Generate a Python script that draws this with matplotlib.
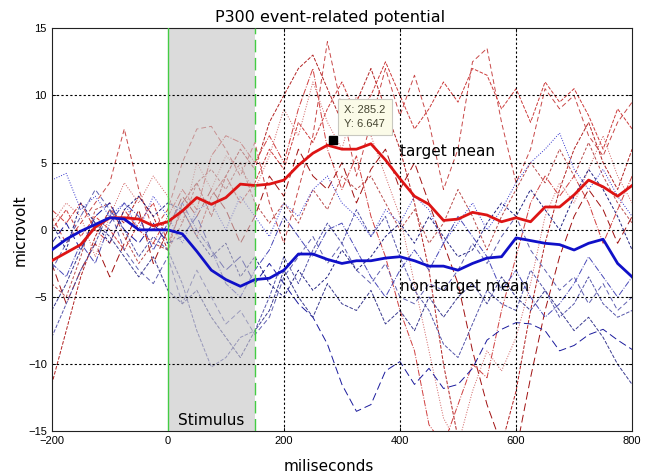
"""
P300 event-related potential: single trials (dashed) and means (thick).
"""

import matplotlib
matplotlib.use('Agg')
import matplotlib.pyplot as plt
import numpy as np

# time base (ms), one sample every 25 ms
t = np.arange(-200, 801, 25)

# --- means ---
target_mean = [-2.3, -1.7, -1.1, 0.2, 0.9, 0.9, 0.8, 0.3, 0.6, 1.4, 2.4, 1.9, 2.4, 3.4,
               3.3, 3.4, 3.7, 4.8, 5.7, 6.3, 6.0, 6.0, 6.4, 5.2, 3.8, 2.5, 1.9, 0.7,
               0.8, 1.3, 1.1, 0.6, 0.9, 0.6, 1.7, 1.7, 2.6, 3.7, 3.2, 2.5, 3.3]
nontarget_mean = [-1.5, -0.7, -0.1, 0.4, 0.9, 0.8, 0.0, 0.0, 0.0, -0.3, -1.6, -3.0, -3.7,
                  -4.2, -3.7, -3.6, -3.0, -1.8, -1.8, -2.2, -2.5, -2.3, -2.3, -2.1, -2.0,
                  -2.3, -2.7, -2.7, -3.0, -2.5, -2.1, -2.0, -0.6, -0.8, -1.0, -1.1, -1.5,
                  -1.0, -0.7, -2.5, -3.5]

# --- single target trials ---
target_trials = [
    [-11.5, -7.5, -3.5, -0.5, 1.5, 0.5, 2.5, 1.0, -1.5, 2.0, 3.5, 1.0, 4.0, 6.0, 4.5, 8.0,
     10.0, 12.0, 13.0, 10.5, 8.0, 9.5, 12.0, 9.0, 6.0, 2.0, -3.0, -10.0, -15.5, -17.0,
     -17.0, -16.0, -12.0, -6.0, -1.0, 3.0, 6.0, 8.0, 5.0, 3.0, 6.0],
    [1.0, -1.0, 0.5, 2.0, 3.5, 7.5, 3.0, 0.0, 1.5, 5.0, 7.5, 7.7, 6.0, 4.0, 6.5, 2.0, -1.0,
     3.0, 7.0, 14.0, 9.0, 4.0, 8.0, 12.0, 8.5, 11.5, 8.0, 3.0, 6.0, 12.5, 13.5, 8.0, 3.5,
     6.0, 10.5, 9.0, 10.0, 7.0, 5.5, 8.0, 9.5],
    [0.5, 2.0, 1.0, -2.0, 1.0, 3.5, 2.0, 4.0, 2.5, 0.5, 5.0, 3.0, 5.5, 4.5, 3.0, 5.5, 9.0,
     7.0, 11.0, 8.0, 6.0, 10.0, 7.0, 4.0, 1.0, -4.0, -9.0, -14.0, -16.0, -12.0, -9.0,
     -10.5, -8.0, -4.0, 1.0, 3.5, 2.0, 4.5, 7.0, 4.0, 2.0],
    [-2.5, -5.5, -3.0, -1.0, -3.5, -1.0, 1.5, -2.5, 0.0, 2.5, 1.0, 3.0, 1.5, -1.0, 1.0, 4.0,
     2.5, 6.0, 4.0, 3.0, 5.0, 2.0, 4.5, 6.0, 3.0, 5.0, 2.0, -1.0, -4.0, -9.0, -13.0,
     -16.0, -16.5, -11.0, -6.0, -2.0, 1.0, 3.0, 1.5, -1.0, 1.0],
    [0.0, 1.5, -0.5, 1.0, 0.0, -1.5, 0.5, 2.0, -1.0, 1.5, -0.5, 2.5, 4.0, 2.0, 3.5, 6.0,
     4.5, 8.0, 6.5, 9.0, 11.0, 8.5, 10.0, 12.5, 10.0, 7.5, 9.0, 11.0, 9.5, 12.0, 11.5, 9.0,
     10.5, 8.0, 11.0, 9.5, 10.5, 8.5, 6.0, 9.0, 7.5],
    [-4.0, -5.0, -2.0, 1.5, 2.0, -0.5, -2.5, -1.0, -1.5, 0.5, 3.5, 4.5, 3.0, 5.0, 2.0, 0.5,
     2.0, 0.5, 3.0, 1.5, 4.0, 3.0, 4.0, 2.0, 0.0, 1.5, -1.0, 0.5, 3.0, 1.0, -1.5, 1.0, 3.0,
     5.0, 3.5, 6.0, 4.0, 6.5, 4.0, 2.0, 0.5],
    [1.5, 0.5, 2.0, 0.0, -1.0, 1.5, 0.0, -1.0, 1.0, 3.0, 1.5, 5.5, 7.0, 6.5, 5.0, 7.0, 5.0,
     9.0, 12.0, 6.0, 3.0, 5.5, 1.0, -2.0, -6.0, -9.0, -14.5, -16.0, -13.0, -10.0, -11.0,
     -6.0, -2.0, 2.0, 4.0, 2.5, 4.0, 2.0, -1.0, 1.5, 4.0],
]

# --- single non-target trials ---
nontarget_trials = [
    [-1.0, 0.5, -1.5, 1.0, 2.0, 0.0, -1.0, 0.5, -1.0, -0.5, 1.0, -1.5, -3.0, -2.0, -4.0,
     -2.5, -4.0, -5.5, -6.5, -8.5, -11.5, -13.5, -13.0, -10.5, -9.8, -11.5, -10.3, -11.8,
     -11.5, -10.3, -8.2, -7.4, -6.9, -7.0, -7.5, -9.0, -8.6, -7.8, -7.4, -8.2, -8.9],
    [-8.0, -5.5, -3.0, -1.0, 1.5, 0.0, -2.0, -0.5, -1.5, -4.0, -7.5, -10.2, -9.5, -8.0,
     -7.5, -5.0, -2.0, -4.0, -1.5, 0.5, -1.0, 1.5, -0.5, 1.0, -2.0, -4.5, -6.0, -8.5, -9.5,
     -7.0, -4.5, -5.5, -6.0, -3.0, -4.5, -6.5, -5.5, -3.5, -5.5, -6.5, -6.0],
    [3.7, 4.2, 1.5, 2.5, 1.0, 2.0, 0.0, 2.5, 1.0, -1.0, 1.5, 2.0, 0.0, 2.5, 1.0, -0.5, 2.0,
     1.0, 3.0, 4.0, 2.0, 1.0, -0.5, 1.5, 0.5, 2.5, 1.5, -1.0, 0.5, 2.0, 0.0, 1.5, 3.5, 5.0,
     6.0, 7.2, 4.5, 3.0, 4.5, 2.5, 1.0],
    [-3.0, -1.0, 1.0, 3.0, 1.5, -1.5, -3.0, -4.0, -2.0, -5.5, -3.0, -5.0, -7.0, -6.0, -7.8,
     -6.5, -3.5, -2.0, -0.5, -2.5, -1.0, -3.0, -4.0, -2.5, -5.0, -5.5, -4.0, -4.5, -3.0,
     -1.0, -2.5, -0.5, 1.0, -1.5, -3.0, -4.5, -3.5, -5.5, -4.0, -6.0, -5.0],
    [0.5, -1.5, 2.0, 0.5, -1.0, 1.5, 2.5, 1.0, 2.0, 1.5, -0.5, -2.0, -1.0, -3.5, -2.0, -4.0,
     -5.0, -3.0, -4.5, -3.5, -1.5, -3.0, -2.0, -0.5, 0.5, -1.0, 1.0, -0.5, -2.0, -1.5, 0.5,
     2.0, 1.0, 3.0, 1.5, 0.0, 2.5, 4.5, 3.0, 1.0, -1.5],
    [-2.5, -3.5, -1.0, -2.5, 0.5, 2.0, 1.0, -1.5, 0.5, 2.0, 0.0, -1.5, -4.0, -5.0, -3.0,
     -1.5, 1.0, -0.5, -2.0, 0.0, 0.5, -1.5, -3.5, -5.0, -3.0, -1.5, -3.0, -1.0, 1.0, -0.5,
     -2.0, -4.5, -3.0, -5.0, -6.5, -5.5, -4.0, -2.0, -3.5, -5.0, -3.5],
    [-6.0, -4.0, -1.5, 0.5, -0.5, -2.0, -3.5, -2.0, -4.5, -5.5, -4.5, -6.5, -8.0, -9.5,
     -7.5, -6.0, -3.0, -5.0, -6.5, -4.0, -5.5, -6.0, -4.5, -7.0, -6.0, -7.5, -5.0, -6.5,
     -5.0, -4.0, -5.5, -3.5, -5.0, -6.0, -4.5, -6.0, -7.5, -6.5, -8.0, -10.0, -11.5],
]

# data tip on the target mean
tip_x = 285.2
tip_y = 6.647

red_colors = ['#b22222', '#c84848', '#d06060', '#a01010', '#cc3a3a', '#b84a4a', '#d04040']
red_styles = ['--', (0, (5, 3)), ':', (0, (8, 4)), '--', (0, (3, 2)), '-.']
blue_colors = ['#1a1a9c', '#5555aa', '#3333cc', '#6060b0', '#202080', '#4a4ab8', '#3a3a90']
blue_styles = [(0, (8, 4)), '--', ':', (0, (5, 3)), (0, (3, 2)), '-.', '--']

fig = plt.figure(figsize=(6.49, 4.76), dpi=100)
ax = fig.add_axes([0.0797, 0.0935, 0.8943, 0.8473])

for tr, c, ls in zip(target_trials, red_colors, red_styles):
    ax.plot(t, tr, color=c, linestyle=ls, linewidth=0.7, zorder=2)
for tr, c, ls in zip(nontarget_trials, blue_colors, blue_styles):
    ax.plot(t, tr, color=c, linestyle=ls, linewidth=0.7, zorder=2)

# stimulus window (fades the single trials underneath)
ax.axvspan(0, 150, color='#c4c4c4', alpha=0.6, linewidth=0, zorder=2.2)
ax.axvline(0, color='#44cc44', linewidth=1.0, zorder=3)
ax.axvline(150, color='#44cc44', linewidth=1.0, linestyle=(0, (9, 4)), zorder=3)

ax.plot(t, target_mean, color='#dd1414', linewidth=2.0, zorder=2.6)
ax.plot(t, nontarget_mean, color='#1010c8', linewidth=2.0, zorder=2.6)

# grid (interior only)
for gx in [200, 400, 600]:
    ax.axvline(gx, color='black', linewidth=0.8, linestyle=(0, (2, 2)), zorder=2.5)
for gy in [-10, -5, 0, 5, 10]:
    ax.axhline(gy, color='black', linewidth=0.8, linestyle=(0, (2, 2)), zorder=2.5)

ax.set_xlim(-200, 800)
ax.set_ylim(-15, 15)
ax.set_xticks(np.arange(-200, 801, 200))
ax.set_yticks(np.arange(-15, 16, 5))
ax.tick_params(direction='in', length=3, width=0.6, labelsize=8, top=True, right=True)
for lbl in ax.get_xticklabels() + ax.get_yticklabels():
    lbl.set_family('Liberation Sans')
for sp in ax.spines.values():
    sp.set_linewidth(0.8)
    sp.set_color('#222222')

# labels
ax.text(400, 5.8, 'target mean', fontsize=11, ha='left', va='center', zorder=5)
ax.text(400, -4.2, 'non-target mean', fontsize=11, ha='left', va='center', zorder=5)
ax.text(75, -14.2, 'Stimulus', fontsize=11, ha='center', va='center', zorder=5)

ax.plot(tip_x, tip_y, 's', color='black', markersize=5.5, zorder=6)
ax.annotate(f'X: {tip_x}\nY: {tip_y}', xy=(tip_x, tip_y), xytext=(8, 8),
            textcoords='offset points', fontsize=8, family='Liberation Sans',
            color='#444430', ha='left', va='bottom', linespacing=1.5,
            bbox=dict(boxstyle='square,pad=0.55', fc='#fbfbe8', ec='#c8c8c0', lw=0.8),
            zorder=7)

fig.text(0.508, 0.964, 'P300 event-related potential', fontsize=11.5, ha='center', va='center')
fig.text(0.507, 0.021, 'miliseconds', fontsize=11, ha='center', va='center')
fig.text(0.031, 0.517, 'microvolt', fontsize=11, ha='center', va='center', rotation=90)

plt.savefig('out.png', dpi=100)
